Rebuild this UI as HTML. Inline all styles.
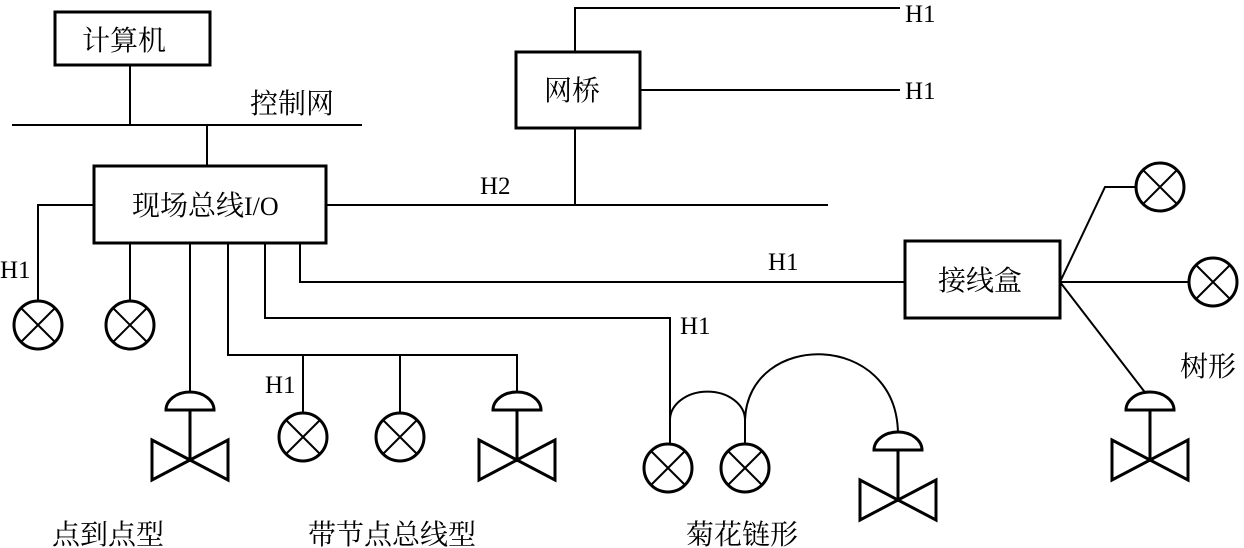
<!DOCTYPE html>
<html><head><meta charset="utf-8"><style>body{margin:0;background:#fff}svg{display:block}text{font-family:"Liberation Serif","Noto Serif CJK SC",serif;fill:#000}</style></head><body>
<svg width="1244" height="548" viewBox="0 0 1244 548" xmlns="http://www.w3.org/2000/svg">
<defs>
<g id="c"><circle r="24" fill="#fff" stroke="#000" stroke-width="3"/><path d="M-17,-17L17,17M17,-17L-17,17" stroke="#000" stroke-width="2"/></g>
<g id="v"><path d="M-24,0 A24,18 0 0 1 24,0 Z" fill="#fff" stroke="#000" stroke-width="3"/><path d="M0,0V52" stroke="#000" stroke-width="3"/><path d="M-38,30 L38,70 L38,30 L-38,70 Z" fill="none" stroke="#000" stroke-width="3" stroke-linejoin="miter"/></g>
</defs>
<g fill="none" stroke="#000" stroke-width="2">
<rect x="55" y="12" width="155" height="53" stroke-width="3"/>
<path d="M130,65V125M12,125H362M207,125V166"/>
<rect x="94" y="166" width="232" height="77" stroke-width="3"/>
<path d="M94,205H38V301M130,243V301M190,243V395M228,243V355H517V395M303,355V413M400,355V413M265,243V318H670V444M300,243V282H905M326,205H828"/>
<rect x="516" y="52" width="124" height="76" stroke-width="3"/>
<path d="M575,128V205M575,52V8H900M640,90H900"/>
<rect x="905" y="241" width="155" height="77" stroke-width="3"/>
<path d="M1060,282L1105,187H1135M1060,282H1188M1060,282L1147,395"/>
<path d="M670,420 A37,28 0 0 1 745,420 M745,420 V444 M745,420 C748,330 898,330 898,435"/>
</g>
<use href="#c" x="38" y="325"/><use href="#c" x="130" y="325"/>
<use href="#c" x="303" y="437"/><use href="#c" x="400" y="437"/>
<use href="#c" x="668" y="468"/><use href="#c" x="745" y="468"/>
<use href="#c" x="1160" y="187"/><use href="#c" x="1213" y="282"/>
<use href="#v" x="190" y="410"/><use href="#v" x="517" y="410"/>
<use href="#v" x="898" y="450"/><use href="#v" x="1150" y="410"/>
<g font-size="28">
<text x="82" y="50">计算机</text>
<text x="250" y="113">控制网</text>
<text x="132" y="215">现场总线<tspan font-size="26">I/O</tspan></text>
<text x="544" y="100">网桥</text>
<text x="938" y="290">接线盒</text>
<text x="52" y="544">点到点型</text>
<text x="308" y="544">带节点总线型</text>
<text x="686" y="544">菊花链形</text>
<text x="1180" y="376">树形</text>
</g>
<g font-size="25">
<text x="480" y="194">H2</text>
<text x="0" y="278">H1</text>
<text x="265" y="393">H1</text>
<text x="680" y="334">H1</text>
<text x="768" y="270">H1</text>
<text x="905" y="22">H1</text>
<text x="905" y="99">H1</text>
</g>
</svg>
</body></html>
